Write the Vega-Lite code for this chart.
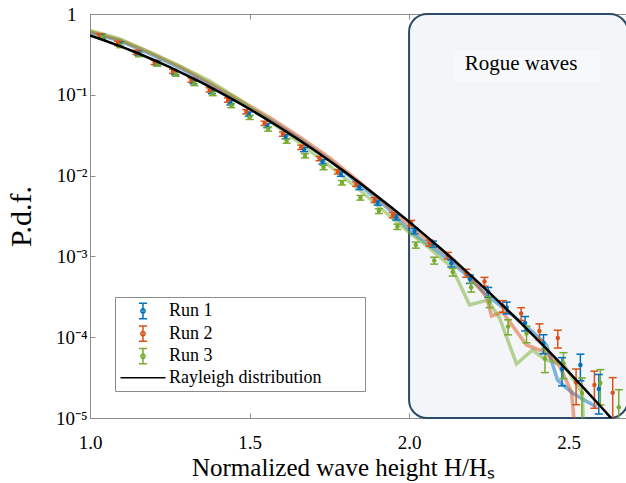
{
  "$schema": "https://vega.github.io/schema/vega-lite/v6.json",
  "width": 536,
  "height": 404,
  "autosize": {"type": "none"},
  "padding": {"left": 90, "top": 14, "right": 0, "bottom": 65},
  "background": "white",
  "config": {
    "view": {"stroke": null},
    "font": "Liberation Serif",
    "axis": {"labelFont": "Liberation Serif", "titleFont": "Liberation Serif", "labelFontSize": 19, "titleFontWeight": "normal", "titleColor": "#000000", "labelColor": "#000000", "domainColor": "#8c8c8c", "tickColor": "#8c8c8c", "grid": false, "zindex": 1, "labelFlush": false},
    "legend": {"padding": 4, "strokeColor": "#8c8c8c", "fillColor": "#ffffff", "symbolSize": 324, "symbolStrokeWidth": 1.5, "symbolOffset": 14, "labelOffset": 16, "labelFontSize": 18, "labelFont": "Liberation Serif", "labelColor": "#000000", "labelLimit": 0, "rowPadding": 0.6, "titlePadding": 0}
  },
  "datasets": {
    "box": [{"x": 2.0, "x2": 2.686, "y": 1, "y2": 0.00001}],
    "labelbg": [{"x": 2.1387, "x2": 2.5985, "y": 0.3583, "y2": 0.1452}],
    "label": [{"x": 2.351, "y": 0.24, "t": "Rogue waves"}],
    "pts": [
      {"s":"Run 1","x":1.0359,"y":0.5342,"lo":0.502,"hi":0.566},
      {"s":"Run 1","x":1.0936,"y":0.4253,"lo":0.400,"hi":0.451},
      {"s":"Run 1","x":1.1514,"y":0.3292,"lo":0.309,"hi":0.349},
      {"s":"Run 1","x":1.2091,"y":0.2474,"lo":0.233,"hi":0.262},
      {"s":"Run 1","x":1.2668,"y":0.1888,"lo":0.177,"hi":0.200},
      {"s":"Run 1","x":1.3246,"y":0.1461,"lo":0.137,"hi":0.155},
      {"s":"Run 1","x":1.3823,"y":0.1098,"lo":0.103,"hi":0.116},
      {"s":"Run 1","x":1.4400,"y":0.07984,"lo":0.0750,"hi":0.0846},
      {"s":"Run 1","x":1.4977,"y":0.05787,"lo":0.0544,"hi":0.0613},
      {"s":"Run 1","x":1.5555,"y":0.04169,"lo":0.0392,"hi":0.0442},
      {"s":"Run 1","x":1.6132,"y":0.0303,"lo":0.0285,"hi":0.0321},
      {"s":"Run 1","x":1.6709,"y":0.02104,"lo":0.01976,"hi":0.02232},
      {"s":"Run 1","x":1.7287,"y":0.01486,"lo":0.01394,"hi":0.01578},
      {"s":"Run 1","x":1.7864,"y":0.01046,"lo":0.0098,"hi":0.01112},
      {"s":"Run 1","x":1.8441,"y":0.007163,"lo":0.006697,"hi":0.007629},
      {"s":"Run 1","x":1.9019,"y":0.00462,"lo":0.004301,"hi":0.004939},
      {"s":"Run 1","x":1.9596,"y":0.003048,"lo":0.002822,"hi":0.003274},
      {"s":"Run 1","x":2.0173,"y":0.002062,"lo":0.001899,"hi":0.002225},
      {"s":"Run 1","x":2.0750,"y":0.001424,"lo":0.001302,"hi":0.001546},
      {"s":"Run 1","x":2.1328,"y":0.0008215,"lo":0.0007385,"hi":0.0009045},
      {"s":"Run 1","x":2.1905,"y":0.0005253,"lo":0.0004628,"hi":0.0005878},
      {"s":"Run 1","x":2.2483,"y":0.0003627,"lo":0.0003126,"hi":0.0004128},
      {"s":"Run 1","x":2.3061,"y":0.0002331,"lo":0.0001942,"hi":0.000272},
      {"s":"Run 1","x":2.3638,"y":0.0001498,"lo":0.0001194,"hi":0.0001802},
      {"s":"Run 1","x":2.4215,"y":0.00008477,"lo":0.00006222,"hi":0.0001073},
      {"s":"Run 1","x":2.4793,"y":0.00004041,"lo":0.00002501,"hi":0.00005581},
      {"s":"Run 1","x":2.5370,"y":0.00004527,"lo":0.00002888,"hi":0.00006166},
      {"s":"Run 1","x":2.5947,"y":0.00002285,"lo":0.00001124,"hi":0.00003446},
      {"s":"Run 2","x":1.0304,"y":0.539,"lo":0.507,"hi":0.571},
      {"s":"Run 2","x":1.0878,"y":0.434,"lo":0.408,"hi":0.460},
      {"s":"Run 2","x":1.1453,"y":0.336,"lo":0.316,"hi":0.356},
      {"s":"Run 2","x":1.2027,"y":0.2525,"lo":0.237,"hi":0.268},
      {"s":"Run 2","x":1.2601,"y":0.1953,"lo":0.184,"hi":0.207},
      {"s":"Run 2","x":1.3176,"y":0.1525,"lo":0.143,"hi":0.162},
      {"s":"Run 2","x":1.3750,"y":0.1147,"lo":0.108,"hi":0.122},
      {"s":"Run 2","x":1.4324,"y":0.0862,"lo":0.081,"hi":0.0914},
      {"s":"Run 2","x":1.4898,"y":0.0618,"lo":0.0581,"hi":0.0655},
      {"s":"Run 2","x":1.5473,"y":0.0444,"lo":0.0417,"hi":0.0471},
      {"s":"Run 2","x":1.6047,"y":0.0327,"lo":0.0307,"hi":0.0347},
      {"s":"Run 2","x":1.6621,"y":0.0224,"lo":0.021,"hi":0.0238},
      {"s":"Run 2","x":1.7196,"y":0.01628,"lo":0.01527,"hi":0.01729},
      {"s":"Run 2","x":1.7770,"y":0.01117,"lo":0.01047,"hi":0.01187},
      {"s":"Run 2","x":1.8344,"y":0.00787,"lo":0.00736,"hi":0.00838},
      {"s":"Run 2","x":1.8919,"y":0.00499,"lo":0.00465,"hi":0.00533},
      {"s":"Run 2","x":1.9493,"y":0.003254,"lo":0.003016,"hi":0.003492},
      {"s":"Run 2","x":2.0067,"y":0.002591,"lo":0.002392,"hi":0.00279},
      {"s":"Run 2","x":2.0641,"y":0.001465,"lo":0.00134,"hi":0.00159},
      {"s":"Run 2","x":2.1216,"y":0.001026,"lo":0.00093,"hi":0.001122},
      {"s":"Run 2","x":2.1790,"y":0.000623,"lo":0.000553,"hi":0.000693},
      {"s":"Run 2","x":2.2364,"y":0.000489,"lo":0.000428,"hi":0.00055},
      {"s":"Run 2","x":2.2939,"y":0.0002432,"lo":0.0002033,"hi":0.0002831},
      {"s":"Run 2","x":2.3513,"y":0.0001965,"lo":0.0001611,"hi":0.0002319},
      {"s":"Run 2","x":2.4087,"y":0.0001193,"lo":0.0000923,"hi":0.0001463},
      {"s":"Run 2","x":2.4662,"y":0.0000977,"lo":0.0000734,"hi":0.000122},
      {"s":"Run 2","x":2.5236,"y":0.0000275,"lo":0.0000146,"hi":0.0000404},
      {"s":"Run 2","x":2.5810,"y":0.0000256,"lo":0.0000132,"hi":0.000038},
      {"s":"Run 2","x":2.6384,"y":0.0000206,"lo":0.0000096,"hi":0.0000316},
      {"s":"Run 3","x":1.0378,"y":0.5191,"lo":0.488,"hi":0.550},
      {"s":"Run 3","x":1.0956,"y":0.4074,"lo":0.383,"hi":0.432},
      {"s":"Run 3","x":1.1535,"y":0.3153,"lo":0.296,"hi":0.334},
      {"s":"Run 3","x":1.2114,"y":0.2404,"lo":0.226,"hi":0.255},
      {"s":"Run 3","x":1.2692,"y":0.1809,"lo":0.170,"hi":0.192},
      {"s":"Run 3","x":1.3271,"y":0.1388,"lo":0.130,"hi":0.147},
      {"s":"Run 3","x":1.3849,"y":0.1038,"lo":0.0976,"hi":0.110},
      {"s":"Run 3","x":1.4427,"y":0.07373,"lo":0.0693,"hi":0.0782},
      {"s":"Run 3","x":1.5005,"y":0.05266,"lo":0.0495,"hi":0.0558},
      {"s":"Run 3","x":1.5584,"y":0.03773,"lo":0.0355,"hi":0.040},
      {"s":"Run 3","x":1.6163,"y":0.02681,"lo":0.02517,"hi":0.02845},
      {"s":"Run 3","x":1.6741,"y":0.01763,"lo":0.01655,"hi":0.01871},
      {"s":"Run 3","x":1.7320,"y":0.0126,"lo":0.01182,"hi":0.01338},
      {"s":"Run 3","x":1.7898,"y":0.008168,"lo":0.007645,"hi":0.008691},
      {"s":"Run 3","x":1.8476,"y":0.005326,"lo":0.004974,"hi":0.005678},
      {"s":"Run 3","x":1.9055,"y":0.003646,"lo":0.003391,"hi":0.003901},
      {"s":"Run 3","x":1.9633,"y":0.002331,"lo":0.002154,"hi":0.002508},
      {"s":"Run 3","x":2.0211,"y":0.001384,"lo":0.001264,"hi":0.001504},
      {"s":"Run 3","x":2.0790,"y":0.0008897,"lo":0.0008025,"hi":0.0009769},
      {"s":"Run 3","x":2.1369,"y":0.000641,"lo":0.0005718,"hi":0.0007102},
      {"s":"Run 3","x":2.1947,"y":0.0004145,"lo":0.0003614,"hi":0.0004676},
      {"s":"Run 3","x":2.2525,"y":0.000275,"lo":0.0002321,"hi":0.0003179},
      {"s":"Run 3","x":2.3104,"y":0.0001356,"lo":0.000107,"hi":0.0001642},
      {"s":"Run 3","x":2.3682,"y":0.0001111,"lo":0.00008532,"hi":0.0001369},
      {"s":"Run 3","x":2.4260,"y":0.0000545,"lo":0.00003646,"hi":0.00007254},
      {"s":"Run 3","x":2.4840,"y":0.00004753,"lo":0.0000307,"hi":0.00006436},
      {"s":"Run 3","x":2.5418,"y":0.00002039,"lo":0.00000948,"hi":0.0000313},
      {"s":"Run 3","x":2.5996,"y":0.00002711,"lo":0.0000145,"hi":0.0000397},
      {"s":"Run 3","x":2.6574,"y":0.00001356,"lo":0.00000473,"hi":0.0000224}
    ],
    "lines": [
      {"s":"Run 1","x":1.0,"y":0.5902},{"s":"Run 1","x":1.0939,"y":0.4633},{"s":"Run 1","x":1.1879,"y":0.3199},{"s":"Run 1","x":1.2818,"y":0.2146},{"s":"Run 1","x":1.3757,"y":0.1341},{"s":"Run 1","x":1.4696,"y":0.08145},{"s":"Run 1","x":1.5636,"y":0.04945},{"s":"Run 1","x":1.6575,"y":0.02838},{"s":"Run 1","x":1.7514,"y":0.0156},{"s":"Run 1","x":1.8453,"y":0.007651},{"s":"Run 1","x":1.9393,"y":0.003752},{"s":"Run 1","x":2.0019,"y":0.002062},{"s":"Run 1","x":2.1271,"y":0.0009024},{"s":"Run 1","x":2.1897,"y":0.0005404},{"s":"Run 1","x":2.243,"y":0.000333},{"s":"Run 1","x":2.3244,"y":0.0001882},{"s":"Run 1","x":2.387,"y":0.0001169},{"s":"Run 1","x":2.4308,"y":0.00008007},{"s":"Run 1","x":2.4653,"y":0.00002954},{"s":"Run 1","x":2.5122,"y":0.00002039},{"s":"Run 1","x":2.5654,"y":0.00001533},{"s":"Run 1","x":2.5873,"y":0.00001368},
      {"s":"Run 2","x":1.0,"y":0.6074},{"s":"Run 2","x":1.0939,"y":0.4768},{"s":"Run 2","x":1.1879,"y":0.3338},{"s":"Run 2","x":1.2818,"y":0.224},{"s":"Run 2","x":1.3757,"y":0.14},{"s":"Run 2","x":1.4696,"y":0.08622},{"s":"Run 2","x":1.5636,"y":0.05236},{"s":"Run 2","x":1.6575,"y":0.03003},{"s":"Run 2","x":1.7514,"y":0.01651},{"s":"Run 2","x":1.8453,"y":0.008332},{"s":"Run 2","x":1.9393,"y":0.003972},{"s":"Run 2","x":2.0019,"y":0.002378},{"s":"Run 2","x":2.0645,"y":0.001551},{"s":"Run 2","x":2.1271,"y":0.001012},{"s":"Run 2","x":2.1803,"y":0.0006232},{"s":"Run 2","x":2.243,"y":0.0003144},{"s":"Run 2","x":2.2586,"y":0.000183},{"s":"Run 2","x":2.293,"y":0.000205},{"s":"Run 2","x":2.3682,"y":0.00008007},{"s":"Run 2","x":2.4245,"y":0.00006559},{"s":"Run 2","x":2.4715,"y":0.00004401},{"s":"Run 2","x":2.5091,"y":0.00002098},{"s":"Run 2","x":2.5404,"y":0.000001},
      {"s":"Run 3","x":1.0,"y":0.625},{"s":"Run 3","x":1.0939,"y":0.4904},{"s":"Run 3","x":1.1879,"y":0.3386},{"s":"Run 3","x":1.2818,"y":0.2272},{"s":"Run 3","x":1.3757,"y":0.1482},{"s":"Run 3","x":1.4696,"y":0.08622},{"s":"Run 3","x":1.5636,"y":0.04739},{"s":"Run 3","x":1.6575,"y":0.02532},{"s":"Run 3","x":1.7514,"y":0.01314},{"s":"Run 3","x":1.8453,"y":0.006635},{"s":"Run 3","x":1.9393,"y":0.003162},{"s":"Run 3","x":2.0019,"y":0.001948},{"s":"Run 3","x":2.0488,"y":0.001424},{"s":"Run 3","x":2.1334,"y":0.0007391},{"s":"Run 3","x":2.1897,"y":0.0002503},{"s":"Run 3","x":2.2461,"y":0.0002887},{"s":"Run 3","x":2.2837,"y":0.0001728},{"s":"Run 3","x":2.3369,"y":0.00004659},{"s":"Run 3","x":2.387,"y":0.00006944},{"s":"Run 3","x":2.4277,"y":0.00005222},{"s":"Run 3","x":2.4841,"y":0.00004659},{"s":"Run 3","x":2.5435,"y":0.00002039},{"s":"Run 3","x":2.5529,"y":0.000001}
    ],
    "ray": [
      {"x":1.00,"y":0.5413},{"x":1.05,"y":0.4631},{"x":1.10,"y":0.3913},{"x":1.15,"y":0.3266},{"x":1.20,"y":0.2695},{"x":1.25,"y":0.2197},{"x":1.30,"y":0.1770},{"x":1.35,"y":0.1411},{"x":1.40,"y":0.1111},{"x":1.45,"y":0.08654},{"x":1.50,"y":0.06665},{"x":1.55,"y":0.05076},{"x":1.60,"y":0.03825},{"x":1.65,"y":0.02849},{"x":1.70,"y":0.02100},{"x":1.75,"y":0.01531},{"x":1.80,"y":0.01104},{"x":1.85,"y":0.00788},{"x":1.90,"y":0.005563},{"x":1.95,"y":0.003885},{"x":2.00,"y":0.002684},{"x":2.05,"y":0.001834},{"x":2.10,"y":0.001241},{"x":2.15,"y":0.0008306},{"x":2.20,"y":0.0005502},{"x":2.25,"y":0.0003606},{"x":2.30,"y":0.0002339},{"x":2.35,"y":0.0001501},{"x":2.40,"y":0.00009532},{"x":2.45,"y":0.00005991},{"x":2.50,"y":0.00003727},{"x":2.55,"y":0.00002294},{"x":2.60,"y":0.00001397},{"x":2.65,"y":0.000008419}
    ]
  },
  "layer": [
    {
      "data": {"name": "box"},
      "mark": {"type": "rect", "fill": "#f3f5f8", "stroke": "#2d4b69", "strokeWidth": 2, "cornerRadius": 18, "clip": false},
      "encoding": {
        "x": {"field": "x", "type": "quantitative", "scale": {"domain": [1, 2.68], "nice": false, "zero": false},
              "axis": {"orient": "top", "values": [1, 1.5, 2, 2.5], "labels": false, "tickSize": -5, "title": null}},
        "x2": {"field": "x2"},
        "y": {"field": "y", "type": "quantitative", "scale": {"type": "log", "domain": [0.00001, 1], "nice": false},
              "axis": {"values": [0.00001, 0.0001, 0.001, 0.01, 0.1, 1], "tickSize": -5,
                       "labelPadding": {"condition": {"test": "datum.value >= 0.5", "value": 19}, "value": 8},
                       "labelExpr": "datum.value >= 0.5 ? '1' : '10' + ['', '\u207b\u00b9', '\u207b\u00b2', '\u207b\u00b3', '\u207b\u2074', '\u207b\u2075'][round(-log(datum.value)/LN10)]",
                       "title": "P.d.f.", "titleFontSize": 30, "titleAngle": -90, "titleX": -60, "titleY": 202, "titleBaseline": "alphabetic", "titleAlign": "center"}},
        "y2": {"field": "y2"}
      }
    },
    {
      "data": {"name": "labelbg"},
      "mark": {"type": "rect", "fill": "#f7f8fa"},
      "encoding": {
        "x": {"field": "x", "type": "quantitative", "axis": null},
        "x2": {"field": "x2"},
        "y": {"field": "y", "type": "quantitative"},
        "y2": {"field": "y2"}
      }
    },
    {
      "data": {"name": "label"},
      "mark": {"type": "text", "font": "Liberation Serif", "fontSize": 21, "align": "center", "baseline": "middle", "color": "#000000"},
      "encoding": {
        "x": {"field": "x", "type": "quantitative", "axis": null},
        "y": {"field": "y", "type": "quantitative"},
        "text": {"field": "t"}
      }
    },
    {
      "data": {"name": "lines"},
      "mark": {"type": "line", "strokeWidth": 3.5, "opacity": 0.5, "clip": true},
      "encoding": {
        "x": {"field": "x", "type": "quantitative", "axis": null},
        "y": {"field": "y", "type": "quantitative"},
        "stroke": {"field": "s", "type": "nominal", "legend": null,
                   "scale": {"domain": ["Run 1", "Run 2", "Run 3"], "range": ["#0072BD", "#D95319", "#77AC30"]}},
        "detail": {"field": "s"}
      }
    },
    {
      "data": {"name": "pts"},
      "mark": {"type": "rule", "strokeWidth": 1.5, "clip": true},
      "encoding": {
        "x": {"field": "x", "type": "quantitative", "axis": null},
        "y": {"field": "lo", "type": "quantitative"},
        "y2": {"field": "hi"},
        "stroke": {"field": "s", "type": "nominal", "legend": null}
      }
    },
    {
      "data": {"name": "pts"},
      "mark": {"type": "tick", "orient": "horizontal", "size": 8, "thickness": 1.5, "opacity": 1, "clip": true},
      "encoding": {
        "x": {"field": "x", "type": "quantitative", "axis": null},
        "y": {"field": "lo", "type": "quantitative"},
        "fill": {"field": "s", "type": "nominal", "legend": null,
                 "scale": {"domain": ["Run 1", "Run 2", "Run 3"], "range": ["#0072BD", "#D95319", "#77AC30"]}}
      }
    },
    {
      "data": {"name": "pts"},
      "mark": {"type": "tick", "orient": "horizontal", "size": 8, "thickness": 1.5, "opacity": 1, "clip": true},
      "encoding": {
        "x": {"field": "x", "type": "quantitative", "axis": null},
        "y": {"field": "hi", "type": "quantitative"},
        "fill": {"field": "s", "type": "nominal", "legend": null}
      }
    },
    {
      "data": {"name": "pts"},
      "mark": {"type": "point", "shape": "circle", "filled": true, "size": 20, "opacity": 1, "clip": true},
      "encoding": {
        "x": {"field": "x", "type": "quantitative", "axis": null},
        "y": {"field": "y", "type": "quantitative"},
        "fill": {"field": "s", "type": "nominal", "legend": null}
      }
    },
    {
      "data": {"name": "ray"},
      "mark": {"type": "line", "color": "#000000", "strokeWidth": 2.5, "clip": true},
      "encoding": {
        "x": {"field": "x", "type": "quantitative",
              "axis": {"orient": "bottom", "values": [1, 1.5, 2, 2.5], "format": ".1f", "tickSize": -5, "labelPadding": 20, "labelBaseline": "top",
                       "title": "Normalized wave height H/H\u209b", "titleFontSize": 25, "titleX": 253, "titleY": 57, "titleBaseline": "alphabetic", "titleAlign": "center"}},
        "y": {"field": "y", "type": "quantitative"}
      }
    },
    {
      "data": {"name": "pts"},
      "transform": [{"filter": "false"}],
      "mark": {"type": "point", "filled": false, "opacity": 1, "strokeWidth": 1.5},
      "encoding": {
        "x": {"field": "x", "type": "quantitative", "axis": null},
        "y": {"field": "y", "type": "quantitative"},
        "color": {"field": "s", "type": "nominal",
                  "scale": {"domain": ["Run 1", "Run 2", "Run 3", "Rayleigh distribution"], "range": ["#0072BD", "#D95319", "#77AC30", "#000000"]},
                  "legend": {"title": null, "orient": "none", "legendX": 25, "legendY": 283, "labelFont": "Liberation Serif", "labelLimit": 0,
                             "labelExpr": "datum.value === 'Rayleigh distribution' ? datum.label + '\u2800\u2800\u2800' : datum.label",
                             "encode": {"symbols": {"fill": {"value": {"expr": "scale('color', datum.value)"}}, "strokeWidth": {"value": {"expr": "datum.value === 'Rayleigh distribution' ? 2.5 : 1.5"}}}}}},
        "shape": {"field": "s", "type": "nominal",
                  "scale": {"domain": ["Run 1", "Run 2", "Run 3", "Rayleigh distribution"], "range": ["M-0.45,-0.85H0.45M0,-0.85V0.85M-0.45,0.85H0.45M0.24,0A0.24,0.24,0,1,1,-0.24,0A0.24,0.24,0,1,1,0.24,0", "M-0.45,-0.85H0.45M0,-0.85V0.85M-0.45,0.85H0.45M0.24,0A0.24,0.24,0,1,1,-0.24,0A0.24,0.24,0,1,1,0.24,0", "M-0.45,-0.85H0.45M0,-0.85V0.85M-0.45,0.85H0.45M0.24,0A0.24,0.24,0,1,1,-0.24,0A0.24,0.24,0,1,1,0.24,0", "M-2.5,0H2.5"]},
                  "legend": {"title": null, "orient": "none", "legendX": 25, "legendY": 283, "labelFont": "Liberation Serif", "labelLimit": 0,
                             "labelExpr": "datum.value === 'Rayleigh distribution' ? datum.label + '\u2800\u2800\u2800' : datum.label",
                             "encode": {"symbols": {"fill": {"value": {"expr": "scale('color', datum.value)"}}, "strokeWidth": {"value": {"expr": "datum.value === 'Rayleigh distribution' ? 2.5 : 1.5"}}}}}}
      }
    }
  ],
  "resolve": {"axis": {"x": "independent"}}
}
